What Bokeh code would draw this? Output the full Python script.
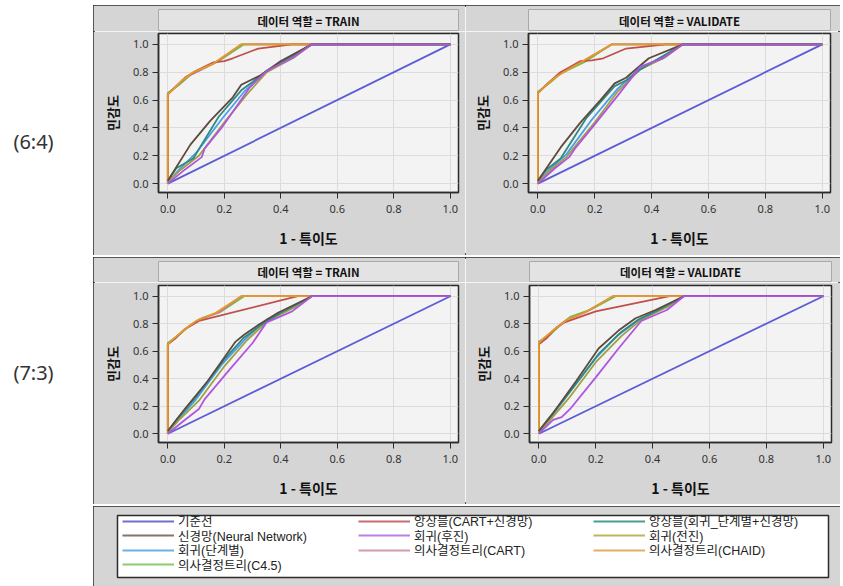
from bokeh.plotting import figure
from bokeh.layouts import row, column, Spacer
from bokeh.models import Range1d, Legend, LegendItem, FixedTicker, PrintfTickFormatter
from bokeh.core.properties import value
from bokeh.embed import file_html
from bokeh.resources import INLINE

# ---------------- data ----------------
series_names = ["기준선", "앙상블(CART+신경망)", "앙상블(회귀_단계별+신경망)",
                "신경망(Neural Network)", "회귀(후진)", "회귀(전진)",
                "회귀(단계별)", "의사결정트리(CART)", "의사결정트리(CHAID)",
                "의사결정트리(C4.5)"]
series_keys = ["base", "ens_cart", "ens_reg", "nn", "bwd", "fwd", "step", "cart", "chaid", "c45"]
series_colors = ["#5c5cd6", "#c0504a", "#2f8a84", "#5e4a3e", "#b055e0",
                 "#a0a040", "#4aa0e8", "#c87898", "#e39a2a", "#6cbf4a"]
legend_colors = ["#7070d0", "#c86a72", "#4c9c98", "#857468", "#c07ee6",
                 "#b8b860", "#6ab2e6", "#d49ab0", "#e6ae62", "#8cca70"]

split_labels = ["(6:4)", "(7:3)"]
panel_titles = ["데이터 역할 = TRAIN", "데이터 역할 = VALIDATE"]
x_label = "1 - 특이도"
y_label = "민감도"
axis_ticks = [0.0, 0.2, 0.4, 0.6, 0.8, 1.0]

base = ([0, 1], [0, 1])

# (6:4) TRAIN
t64_ens_cart = ([0, 0, 0.03, 0.06, 0.10, 0.16, 0.20, 0.23, 0.32, 0.44, 1.0],
                [0, 0.64, 0.70, 0.76, 0.81, 0.87, 0.88, 0.90, 0.97, 1.0, 1.0])
t64_ens_reg = ([0, 0.03, 0.09, 0.18, 0.26, 0.30, 0.35, 0.40, 0.51, 1.0],
               [0.02, 0.11, 0.18, 0.48, 0.67, 0.73, 0.81, 0.87, 1.0, 1.0])
t64_nn = ([0, 0.08, 0.15, 0.23, 0.26, 0.33, 0.40, 0.51, 1.0],
          [0.02, 0.28, 0.45, 0.62, 0.71, 0.78, 0.88, 1.0, 1.0])
t64_bwd = ([0, 0.06, 0.12, 0.13, 0.19, 0.29, 0.35, 0.44, 0.51, 1.0],
           [0, 0.10, 0.19, 0.25, 0.40, 0.69, 0.81, 0.90, 1.0, 1.0])
t64_fwd = ([0, 0.04, 0.11, 0.20, 0.28, 0.35, 0.45, 0.51, 1.0],
           [0.01, 0.09, 0.20, 0.44, 0.64, 0.80, 0.91, 1.0, 1.0])
t64_step = ([0, 0.04, 0.10, 0.19, 0.27, 0.35, 0.44, 0.51, 1.0],
            [0.01, 0.10, 0.22, 0.46, 0.66, 0.81, 0.91, 1.0, 1.0])
t64_cart = ([0, 0, 0.03, 0.07, 0.11, 0.17, 0.26, 1.0],
            [0, 0.64, 0.70, 0.77, 0.81, 0.87, 1.0, 1.0])
t64_chaid = ([0, 0, 0.02, 0.05, 0.09, 0.16, 0.26, 1.0],
             [0, 0.64, 0.68, 0.74, 0.80, 0.86, 1.0, 1.0])
t64_c45 = ([0, 0, 0.04, 0.08, 0.12, 0.18, 0.27, 1.0],
           [0, 0.65, 0.71, 0.78, 0.82, 0.88, 1.0, 1.0])

# (6:4) VALIDATE
v64_ens_cart = ([0, 0, 0.03, 0.08, 0.15, 0.19, 0.23, 0.31, 0.45, 1.0],
                [0, 0.65, 0.71, 0.80, 0.88, 0.885, 0.90, 0.97, 1.0, 1.0])
v64_ens_reg = ([0, 0.03, 0.08, 0.17, 0.27, 0.31, 0.36, 0.41, 0.51, 1.0],
               [0.02, 0.10, 0.18, 0.47, 0.70, 0.74, 0.82, 0.88, 1.0, 1.0])
v64_nn = ([0, 0.08, 0.15, 0.22, 0.27, 0.31, 0.39, 0.51, 1.0],
          [0.02, 0.26, 0.44, 0.60, 0.72, 0.76, 0.90, 1.0, 1.0])
v64_bwd = ([0, 0.06, 0.11, 0.13, 0.19, 0.28, 0.36, 0.44, 0.51, 1.0],
           [0, 0.11, 0.19, 0.25, 0.40, 0.63, 0.84, 0.90, 1.0, 1.0])
v64_fwd = ([0, 0.04, 0.10, 0.20, 0.28, 0.36, 0.45, 0.51, 1.0],
           [0.01, 0.09, 0.19, 0.44, 0.66, 0.82, 0.91, 1.0, 1.0])
v64_step = ([0, 0.04, 0.10, 0.19, 0.28, 0.36, 0.44, 0.51, 1.0],
            [0.01, 0.10, 0.21, 0.46, 0.68, 0.83, 0.91, 1.0, 1.0])
v64_cart = ([0, 0, 0.03, 0.08, 0.15, 0.26, 1.0],
            [0, 0.65, 0.71, 0.80, 0.87, 1.0, 1.0])
v64_chaid = ([0, 0, 0.02, 0.06, 0.09, 0.15, 0.26, 1.0],
             [0, 0.65, 0.69, 0.76, 0.80, 0.87, 1.0, 1.0])
v64_c45 = ([0, 0, 0.04, 0.08, 0.11, 0.17, 0.26, 1.0],
           [0, 0.66, 0.72, 0.79, 0.82, 0.88, 1.0, 1.0])

# (7:3) TRAIN
t73_ens_cart = ([0, 0, 0.03, 0.06, 0.11, 0.46, 1.0],
                [0, 0.65, 0.70, 0.76, 0.82, 1.0, 1.0])
t73_ens_reg = ([0, 0.03, 0.10, 0.20, 0.27, 0.33, 0.40, 0.51, 1.0],
               [0.02, 0.10, 0.27, 0.54, 0.70, 0.79, 0.88, 1.0, 1.0])
t73_nn = ([0, 0.06, 0.14, 0.24, 0.27, 0.32, 0.39, 0.51, 1.0],
          [0.02, 0.18, 0.38, 0.67, 0.72, 0.79, 0.88, 1.0, 1.0])
t73_bwd = ([0, 0.06, 0.11, 0.13, 0.22, 0.30, 0.35, 0.44, 0.51, 1.0],
           [0, 0.10, 0.18, 0.25, 0.47, 0.66, 0.81, 0.89, 1.0, 1.0])
t73_fwd = ([0, 0.04, 0.11, 0.20, 0.28, 0.36, 0.45, 0.51, 1.0],
           [0.01, 0.10, 0.24, 0.49, 0.68, 0.83, 0.92, 1.0, 1.0])
t73_step = ([0, 0.04, 0.10, 0.19, 0.28, 0.35, 0.44, 0.51, 1.0],
            [0.01, 0.11, 0.25, 0.50, 0.70, 0.83, 0.92, 1.0, 1.0])
t73_cart = ([0, 0, 0.03, 0.06, 0.11, 0.18, 0.26, 1.0],
            [0, 0.65, 0.70, 0.76, 0.83, 0.88, 1.0, 1.0])
t73_chaid = ([0, 0, 0.02, 0.06, 0.10, 0.17, 0.26, 1.0],
             [0, 0.65, 0.69, 0.76, 0.82, 0.88, 1.0, 1.0])
t73_c45 = ([0, 0, 0.04, 0.08, 0.12, 0.19, 0.27, 1.0],
           [0, 0.66, 0.72, 0.79, 0.84, 0.89, 1.0, 1.0])

# (7:3) VALIDATE
v73_ens_cart = ([0, 0, 0.03, 0.05, 0.09, 0.20, 0.46, 1.0],
                [0, 0.65, 0.70, 0.75, 0.81, 0.89, 1.0, 1.0])
v73_ens_reg = ([0, 0.03, 0.10, 0.21, 0.29, 0.35, 0.41, 0.51, 1.0],
               [0.02, 0.10, 0.28, 0.58, 0.74, 0.83, 0.89, 1.0, 1.0])
v73_nn = ([0, 0.05, 0.13, 0.21, 0.28, 0.34, 0.41, 0.51, 1.0],
          [0.02, 0.15, 0.38, 0.62, 0.75, 0.84, 0.90, 1.0, 1.0])
v73_bwd = ([0, 0.05, 0.08, 0.11, 0.20, 0.28, 0.36, 0.45, 0.51, 1.0],
           [0, 0.10, 0.12, 0.18, 0.41, 0.62, 0.82, 0.90, 1.0, 1.0])
v73_fwd = ([0, 0.04, 0.11, 0.20, 0.29, 0.36, 0.45, 0.51, 1.0],
           [0.01, 0.10, 0.27, 0.52, 0.71, 0.83, 0.92, 1.0, 1.0])
v73_step = ([0, 0.04, 0.10, 0.20, 0.28, 0.36, 0.44, 0.51, 1.0],
            [0.01, 0.11, 0.28, 0.55, 0.72, 0.84, 0.92, 1.0, 1.0])
v73_cart = ([0, 0, 0.03, 0.06, 0.10, 0.17, 0.26, 1.0],
            [0, 0.66, 0.71, 0.77, 0.83, 0.89, 1.0, 1.0])
v73_chaid = ([0, 0, 0.02, 0.055, 0.10, 0.16, 0.26, 1.0],
             [0, 0.66, 0.70, 0.76, 0.83, 0.88, 1.0, 1.0])
v73_c45 = ([0, 0, 0.04, 0.08, 0.11, 0.18, 0.27, 1.0],
           [0, 0.67, 0.72, 0.80, 0.85, 0.90, 1.0, 1.0])

panels = [
    {"base": base, "ens_cart": t64_ens_cart, "ens_reg": t64_ens_reg, "nn": t64_nn, "bwd": t64_bwd,
     "fwd": t64_fwd, "step": t64_step, "cart": t64_cart, "chaid": t64_chaid, "c45": t64_c45},
    {"base": base, "ens_cart": v64_ens_cart, "ens_reg": v64_ens_reg, "nn": v64_nn, "bwd": v64_bwd,
     "fwd": v64_fwd, "step": v64_step, "cart": v64_cart, "chaid": v64_chaid, "c45": v64_c45},
    {"base": base, "ens_cart": t73_ens_cart, "ens_reg": t73_ens_reg, "nn": t73_nn, "bwd": t73_bwd,
     "fwd": t73_fwd, "step": t73_step, "cart": t73_cart, "chaid": t73_chaid, "c45": t73_c45},
    {"base": base, "ens_cart": v73_ens_cart, "ens_reg": v73_ens_reg, "nn": v73_nn, "bwd": v73_bwd,
     "fwd": v73_fwd, "step": v73_step, "cart": v73_cart, "chaid": v73_chaid, "c45": v73_c45},
]

# drawing order (last on top)
draw_order = ["base", "c45", "cart", "ens_cart", "chaid", "step", "fwd", "ens_reg", "nn", "bwd"]

# ---------------- styling ----------------
KR = "Noto Sans CJK KR"
LEG_FONT = "Liberation Sans, Noto Sans CJK KR"
PANEL_BG = "#d5d5d5"
STRIP_BG = "#e3e3e3"
PLOT_BG = "#f3f3f3"
GRID = "#dcdcdc"
DARK = "#2b2b2b"


def header(title, w, h):
    f = figure(width=w, height=h, x_range=Range1d(0, 1), y_range=Range1d(0, 1),
               toolbar_location=None, output_backend="svg",
               x_axis_location=None, y_axis_location=None,
               min_border_left=4, min_border_right=4, min_border_top=4, min_border_bottom=0)
    f.grid.visible = False
    f.background_fill_color = STRIP_BG
    f.border_fill_color = PANEL_BG
    f.outline_line_color = "#a9a9a9"
    f.text(x=[0.5], y=[0.5], text=[title], text_align="center", text_baseline="middle",
           text_font=value(KR), text_font_style="bold", text_font_size="11.5px", text_color="#111111")
    return f


def plot_panel(data, w, h, left, right, top, bottom):
    p = figure(width=w, height=h, x_range=Range1d(-0.033, 1.029), y_range=Range1d(-0.064, 1.078),
               toolbar_location=None, output_backend="svg",
               min_border_left=left, min_border_right=right, min_border_top=top, min_border_bottom=bottom)
    p.background_fill_color = PLOT_BG
    p.border_fill_color = PANEL_BG
    p.outline_line_color = DARK
    p.outline_line_width = 1.5
    p.grid.grid_line_color = GRID
    p.xgrid.ticker = FixedTicker(ticks=axis_ticks)
    p.ygrid.ticker = FixedTicker(ticks=axis_ticks)
    for ax in (p.xaxis[0], p.yaxis[0]):
        ax.ticker = FixedTicker(ticks=axis_ticks)
        ax.formatter = PrintfTickFormatter(format="%.1f")
        ax.minor_tick_line_color = None
        ax.major_tick_out = 6
        ax.major_tick_in = 0
        ax.axis_line_color = DARK
        ax.axis_line_width = 1.5
        ax.major_tick_line_color = DARK
        ax.major_label_text_font = "Noto Sans"
        ax.major_label_text_font_size = "11px"
        ax.major_label_text_color = "#333333"
        ax.axis_label_text_font = KR
        ax.axis_label_text_font_style = "bold"
        ax.axis_label_text_color = "#111111"
    p.xaxis.axis_label = x_label
    p.xaxis.axis_label_text_font_size = "14px"
    p.xaxis.major_label_standoff = 6
    p.xaxis.axis_label_standoff = 12
    p.yaxis.axis_label = y_label
    p.yaxis.axis_label_text_font_size = "13px"
    p.yaxis.major_label_standoff = 4
    p.yaxis.axis_label_standoff = 8
    for key in draw_order:
        i = series_keys.index(key)
        xs, ys = data[key]
        p.line(xs, ys, line_color=series_colors[i], line_width=1.8)
    return p


# block 1 (6:4)
tl = column(header(panel_titles[0], 372, 26),
            plot_panel(panels[0], 372, 224, 65, 7, 2, 63))
tr = column(header(panel_titles[1], 375, 26),
            plot_panel(panels[1], 375, 224, 63, 10, 2, 63))
block1 = row(tl, tr, styles={"outline": "2px solid #2a2a2a", "outline-offset": "-2px"})

# block 2 (7:3)
bl = column(header(panel_titles[0], 372, 25),
            plot_panel(panels[2], 372, 222, 65, 7, 3, 62))
br = column(header(panel_titles[1], 375, 25),
            plot_panel(panels[3], 375, 222, 64, 9, 3, 62))
block2 = row(bl, br, styles={"outline": "2px solid #2a2a2a", "outline-offset": "-2px"})

# legend block
LG_W, LG_H = 747, 83
LG_TOP, LG_BOTTOM = 9, 12
lg = figure(width=LG_W, height=LG_H, x_range=Range1d(0, 1), y_range=Range1d(0, 1),
            toolbar_location=None, output_backend="svg",
            x_axis_location=None, y_axis_location=None,
            min_border_left=24, min_border_right=12, min_border_top=LG_TOP, min_border_bottom=LG_BOTTOM)
lg.grid.visible = False
lg.background_fill_color = "white"
lg.border_fill_color = PANEL_BG
lg.outline_line_color = DARK
lg.outline_line_width = 1.5
# hidden carrier lines (outside the visible range) so the legend has glyphs to draw
lg_renderers = [lg.line(x=[-5, -4], y=[-5, -4], line_color=c, line_width=2) for c in legend_colors]
frame_h = LG_H - LG_TOP - LG_BOTTOM
row_centers = [8.0, 22.5, 37.0, 51.5]        # from the frame top, px
col_x = [5, 241, 476]                        # from the frame left, px
ITEM_H = 14
for i in range(len(series_names)):
    r, c = divmod(i, 3)
    leg = Legend(items=[LegendItem(label=series_names[i], renderers=[lg_renderers[i]])],
                 location=(col_x[c], frame_h - row_centers[r] - ITEM_H / 2),
                 padding=0, margin=0, spacing=0,
                 glyph_width=52, glyph_height=ITEM_H, label_height=ITEM_H, label_standoff=4,
                 label_text_font=LEG_FONT, label_text_font_size="12.5px", label_text_color="#222222",
                 border_line_alpha=0, background_fill_alpha=0)
    lg.add_layout(leg, "center")
legend_block = column(lg, styles={"outline": "2px solid #2a2a2a", "outline-offset": "-2px"})

# left labels
lab = figure(width=93, height=586, x_range=Range1d(0, 93), y_range=Range1d(586, 0),
             toolbar_location=None, output_backend="svg",
             x_axis_location=None, y_axis_location=None,
             min_border=0)
lab.grid.visible = False
lab.outline_line_color = None
lab.background_fill_color = "white"
lab.border_fill_color = "white"
lab.text(x=[33, 33], y=[141, 372], text=split_labels, text_align="center", text_baseline="middle",
         text_font=value("Noto Sans"), text_font_size="20px", text_color="#333333")

right = column(Spacer(width=747, height=5), block1, Spacer(width=747, height=2), block2,
               Spacer(width=747, height=2), legend_block)
layout = row(lab, right)

open("out.html", "w").write(file_html(layout, INLINE))
